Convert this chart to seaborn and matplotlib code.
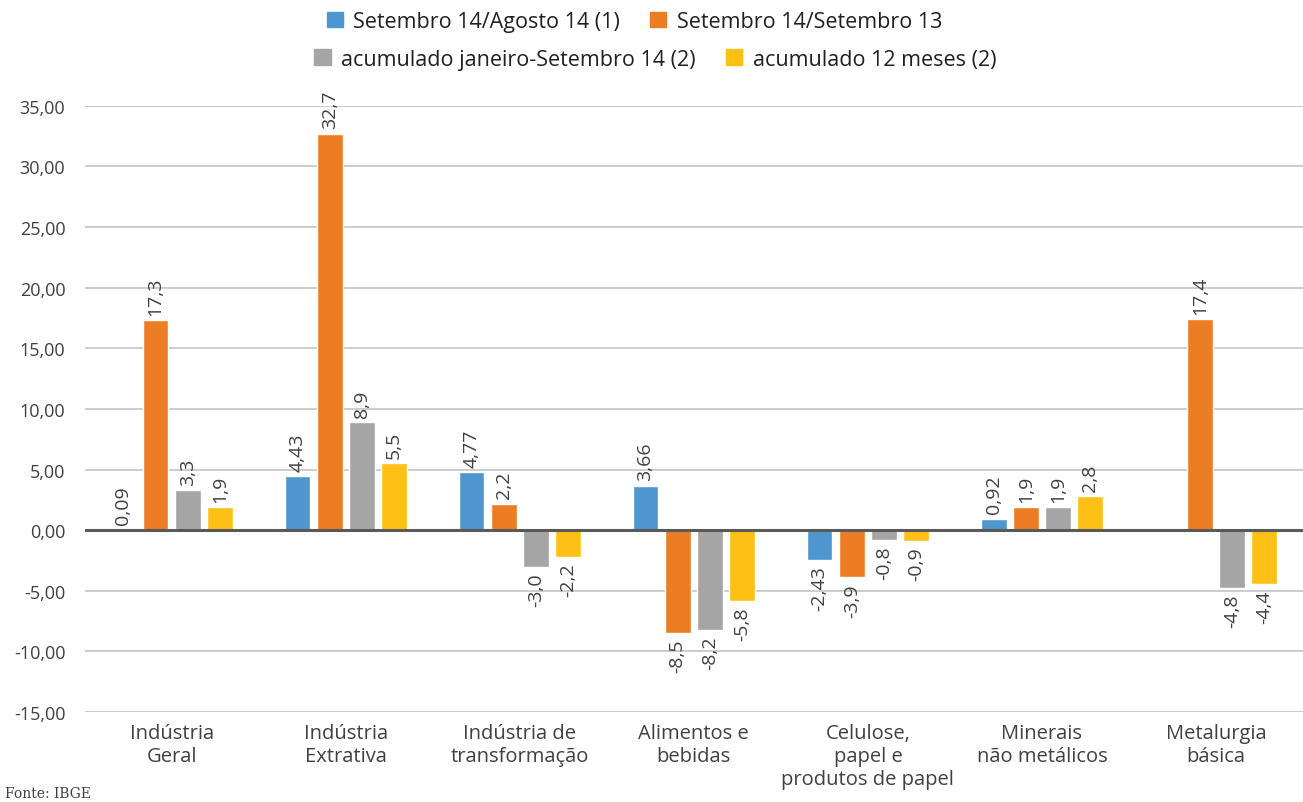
import numpy as np
import pandas as pd
import matplotlib
matplotlib.use("Agg")
import matplotlib.pyplot as plt
import seaborn as sns

# data
categorias = ["Indústria\nGeral", "Indústria\nExtrativa", "Indústria de\ntransformação",
              "Alimentos e\nbebidas", "Celulose,\npapel e\nprodutos de papel",
              "Minerais\nnão metálicos", "Metalurgia\nbásica"]
series = ["Setembro 14/Agosto 14 (1)", "Setembro 14/Setembro 13",
          "acumulado janeiro-Setembro 14 (2)", "acumulado 12 meses (2)"]
mes_anterior = [0.09, 4.43, 4.77, 3.66, -2.43, 0.92, np.nan]
ano_anterior = [17.3, 32.7, 2.2, -8.5, -3.9, 1.9, 17.4]
acum_ano = [3.3, 8.9, -3.0, -8.2, -0.8, 1.9, -4.8]
acum_12m = [1.9, 5.5, -2.2, -5.8, -0.9, 2.8, -4.4]
yticks = [-15, -10, -5, 0, 5, 10, 15, 20, 25, 30, 35]
cores = ["#4E96CE", "#ED7D24", "#A5A5A5", "#FFC015"]
decimais = [2, 1, 1, 1]

valores = [mes_anterior, ano_anterior, acum_ano, acum_12m]
df = pd.DataFrame({
    "categoria": categorias * 4,
    "serie": [s for s in series for _ in categorias],
    "valor": [v for vals in valores for v in vals],
})

sns.set_style("white")
plt.rcParams["font.family"] = ["Open Sans", "DejaVu Sans"]
texto = "#404040"

fig = plt.figure(figsize=(13.03, 8.03), dpi=100)
ax = fig.add_axes([0.065, 0.112, 0.935, 0.755])

sns.barplot(data=df, x="categoria", y="valor", hue="serie", hue_order=series,
            palette=cores, width=0.74, gap=0.2, ax=ax, legend=False,
            saturation=1)

# rotated value labels, Portuguese decimal comma
for cont, d in zip(ax.containers, decimais):
    for bar in cont:
        if bar is None:
            continue
        v = bar.get_height()
        if np.isnan(v):
            continue
        x = bar.get_x() + bar.get_width() / 2
        lbl = f"{v:.{d}f}".replace(".", ",")
        ax.annotate(lbl, (x, v), xytext=(0, 4 if v >= 0 else -4), textcoords="offset points",
                    rotation=90, ha="center", va="bottom" if v >= 0 else "top",
                    fontsize=14, color=texto)

ax.set_ylim(-15, 35)
ax.set_yticks(yticks)
ax.set_yticklabels([f"{t:.2f}".replace(".", ",") for t in yticks], fontsize=13, color=texto)
ax.set_xlim(-0.5, len(categorias) - 0.5)
ax.tick_params(axis="x", labelsize=14.5, colors=texto, length=0, pad=8)
ax.tick_params(axis="y", length=0, pad=14)
ax.set_xlabel("")
ax.set_ylabel("")
ax.grid(axis="y", color="#C8C8C8", linewidth=1.3)
ax.set_axisbelow(True)
for s in ax.spines.values():
    s.set_visible(False)
ax.axhline(0, color="#595959", linewidth=2.2, zorder=3)

handles = [plt.Rectangle((0, 0), 1, 1, color=c) for c in cores]
leg_kw = dict(ncol=2, frameon=False, fontsize=15.5, handlelength=0.75, handleheight=0.75,
              columnspacing=1.4, handletextpad=0.5, labelcolor="#202020")
fig.legend(handles[:2], series[:2], loc="center", bbox_to_anchor=(0.487, 0.972), **leg_kw)
fig.legend(handles[2:], series[2:], loc="center", bbox_to_anchor=(0.503, 0.925), **leg_kw)

fig.text(0.004, 0.002, "Fonte: IBGE", family="DejaVu Serif", fontsize=10, color=texto, va="bottom")

fig.savefig("out.png", dpi=100)
